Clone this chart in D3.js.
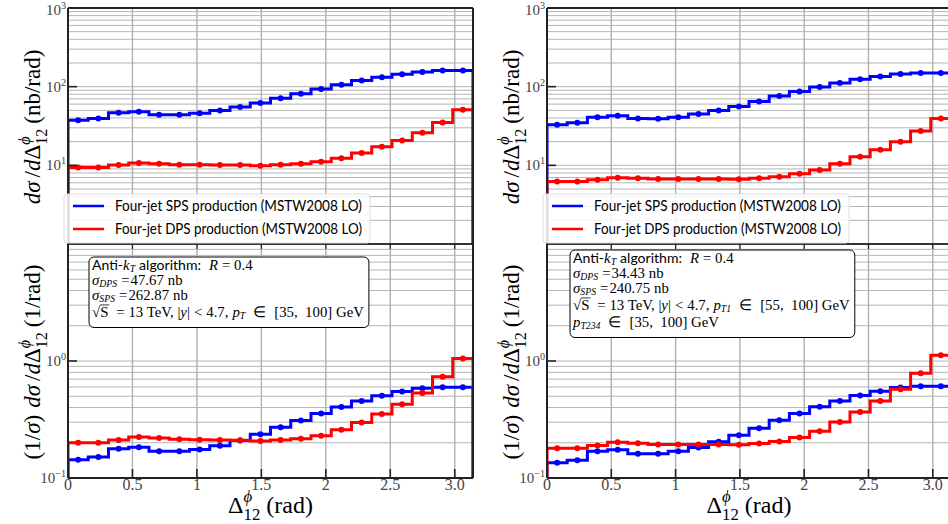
<!DOCTYPE html>
<html><head><meta charset="utf-8">
<script src="https://cdn.jsdelivr.net/npm/d3@7"></script>
<style>html,body{margin:0;padding:0;background:#fff;}svg{display:block;} text{white-space:pre;}</style>
</head><body>
<svg id="chart" width="948" height="524"></svg>
<script>
// ---------- data ----------
const nBins = 20;
const xTickValues = [0, 0.5, 1, 1.5, 2, 2.5, 3.0];
const xTickLabels = ["0", "0.5", "1", "1.5", "2", "2.5", "3.0"];
const upperTickValues = [1000, 100, 10];
const upperTickExp = ["3", "2", "1"];
const lowerTickValues = [1, 0.1];
const lowerTickExp = ["0", "\u22121"];
const legendLabels = ["Four-jet SPS production (MSTW2008 LO)", "Four-jet DPS production (MSTW2008 LO)"];

const spsLeftUpper = [37.5,39.4,46.6,48,44,44,46,49.9,55,61.8,71,81.5,93.3,106,120,132,143.5,153.6,160,160];
const dpsLeftUpper = [9.4,9.4,10.1,10.7,10.5,10.2,10.2,10.1,10.1,9.9,10.2,10.5,11.1,12.3,14.4,17.2,20.7,25.9,35,51];
const spsLeftNorm = [0.143,0.151,0.178,0.183,0.169,0.169,0.175,0.189,0.209,0.237,0.271,0.310,0.356,0.405,0.455,0.505,0.55,0.586,0.598,0.598];
const dpsLeftNorm = [0.200,0.200,0.211,0.224,0.220,0.214,0.212,0.211,0.210,0.207,0.211,0.217,0.230,0.258,0.298,0.353,0.427,0.532,0.732,1.05];

const spsRightUpper = [32.8,34.8,41,42.6,39.5,39.1,41,44.8,49.9,56.1,65,75.9,87.1,98.9,111,124,135,145,149,149];
const dpsRightUpper = [6.25,6.25,6.58,6.97,6.83,6.7,6.7,6.7,6.7,6.64,6.83,7.18,7.84,8.73,10.5,12.9,15.8,20,27.4,39.5];
const spsRightNorm = [0.135,0.142,0.169,0.174,0.161,0.161,0.169,0.182,0.204,0.232,0.266,0.311,0.355,0.406,0.454,0.507,0.552,0.593,0.609,0.609];
const dpsRightNorm = [0.180,0.180,0.190,0.202,0.198,0.193,0.193,0.193,0.193,0.192,0.197,0.205,0.222,0.251,0.301,0.366,0.454,0.574,0.785,1.12];

const sigmaLeft = {dps: "47.67", sps: "262.87"};
const sigmaRight = {dps: "34.43", sps: "240.75"};

// ---------- layout ----------
const SERIF = "Liberation Serif";
const SANS = "Lato";
const BLUE = "#0000ff", RED = "#ff0000";
const PHI = "\u03d5";
const yTop = 8, ySep = 244, yBot = 478;
const svg = d3.select("#chart");
const edges = d3.range(nBins + 1).map(i => i * Math.PI / nBins);
const centers = d3.range(nBins).map(i => (edges[i] + edges[i + 1]) / 2);

// rich text helper: sequential segments with measured widths
function rich(parent, segs, fontSize, family, anchor) {
  const g = parent.append("g");
  let x = 0, prevX = 0;
  segs.forEach(s => {
    if (s.gap !== undefined) { x += s.gap; return; }
    const fs = fontSize * (s.s || 1);
    const startX = s.back ? prevX : x;
    const t = g.append("text")
      .attr("x", startX).attr("y", (s.dy || 0) * fontSize)
      .attr("font-size", fs)
      .attr("font-family", s.f || family)
      .attr("font-style", s.it ? "italic" : "normal")
      .attr("fill", s.c || "#000")
      .text(s.t);
    const w = t.node().getComputedTextLength();
    if (s.over) {
      g.append("line").attr("x1", startX).attr("x2", startX + w + 1)
        .attr("y1", -fontSize * 0.78).attr("y2", -fontSize * 0.78)
        .attr("stroke", "#000").attr("stroke-width", 0.8).attr("class", "ovl");
    }
    prevX = startX;
    x = Math.max(x, startX + w);
  });
  let shift = 0;
  if (anchor === "middle") shift = -x / 2;
  else if (anchor === "end") shift = -x;
  g.selectAll("text").attr("x", function () { return +this.getAttribute("x") + shift; });
  g.selectAll("line.ovl").attr("x1", function () { return +this.getAttribute("x1") + shift; })
    .attr("x2", function () { return +this.getAttribute("x2") + shift; });
  g.width = x;
  return g;
}

const panels = [
  {x0: 68, x1: 473, spsU: spsLeftUpper, dpsU: dpsLeftUpper, spsN: spsLeftNorm, dpsN: dpsLeftNorm, sig: sigmaLeft, right: false, boxDx: 22, boxTop: 257},
  {x0: 547, x1: 951, spsU: spsRightUpper, dpsU: dpsRightUpper, spsN: spsRightNorm, dpsN: dpsRightNorm, sig: sigmaRight, right: true, boxDx: 24, boxTop: 250}
];

panels.forEach((p, pi) => {
  const x = d3.scaleLinear().domain([0, Math.PI]).range([p.x0, p.x1]);
  const yU = d3.scaleLog().domain([1, 1000]).range([ySep, yTop]);
  const yL = d3.scaleLog().domain([0.1, 10]).range([yBot, ySep]);
  const g = svg.append("g");

  const clipU = "clipU" + pi, clipL = "clipL" + pi;
  const defs = svg.append("defs");
  defs.append("clipPath").attr("id", clipU).append("rect").attr("x", p.x0).attr("y", yTop).attr("width", p.x1 - p.x0).attr("height", ySep - yTop);
  defs.append("clipPath").attr("id", clipL).append("rect").attr("x", p.x0).attr("y", ySep).attr("width", p.x1 - p.x0).attr("height", yBot - ySep);

  // grids
  function grid(y, lo, hi) {
    const vals = [];
    for (let e = lo; e < hi; e++) for (let m = 1; m <= 9; m++) vals.push(m * Math.pow(10, e));
    vals.push(Math.pow(10, hi));
    g.append("g").selectAll("line").data(vals).join("line")
      .attr("x1", p.x0).attr("x2", p.x1)
      .attr("y1", d => y(d)).attr("y2", d => y(d))
      .attr("stroke", "#b4b4b4").attr("stroke-width", 1);
  }
  grid(yU, 0, 3);
  grid(yL, -1, 1);
  g.append("g").selectAll("line").data(xTickValues.slice(1)).join("line")
    .attr("x1", d => x(d)).attr("x2", d => x(d))
    .attr("y1", yTop).attr("y2", yBot)
    .attr("stroke", "#b0b0b0").attr("stroke-width", 1.4);

  // histogram step lines
  function hist(vals, y, clip, color, yMin) {
    const pts = [[0, yMin]];
    vals.forEach((v, i) => pts.push([edges[i], v]));
    pts.push([Math.PI, vals[vals.length - 1]]);
    pts.push([Math.PI, yMin]);
    const line = d3.line().x(d => x(d[0])).y(d => y(d[1])).curve(d3.curveStepAfter);
    const cg = g.append("g").attr("clip-path", `url(#${clip})`);
    cg.append("path").attr("d", line(pts)).attr("fill", "none")
      .attr("stroke", color).attr("stroke-width", 3).attr("stroke-linejoin", "miter");
    cg.selectAll("circle").data(vals).join("circle")
      .attr("cx", (d, i) => x(centers[i])).attr("cy", d => y(d))
      .attr("r", 3).attr("fill", color);
  }
  hist(p.spsU, yU, clipU, BLUE, 1);
  hist(p.dpsU, yU, clipU, RED, 1);
  hist(p.spsN, yL, clipL, BLUE, 0.1);
  hist(p.dpsN, yL, clipL, RED, 0.1);

  // frame
  const fr = g.append("g").attr("stroke", "#222").attr("fill", "none");
  fr.append("line").attr("x1", p.x0).attr("x2", p.x1).attr("y1", yTop).attr("y2", yTop).attr("stroke-width", 2);
  fr.append("line").attr("x1", p.x0).attr("x2", p.x1).attr("y1", ySep).attr("y2", ySep).attr("stroke-width", 1.5).attr("stroke", "#000");
  fr.append("line").attr("x1", p.x0).attr("x2", p.x1).attr("y1", yBot).attr("y2", yBot).attr("stroke-width", 2);
  fr.append("line").attr("x1", p.x0).attr("x2", p.x0).attr("y1", yTop).attr("y2", yBot).attr("stroke-width", 2);
  fr.append("line").attr("x1", p.x1).attr("x2", p.x1).attr("y1", yTop).attr("y2", yBot).attr("stroke-width", 2);

  // y major ticks
  const tk = g.append("g").attr("stroke", "#222").attr("stroke-width", 1.6);
  upperTickValues.forEach(v => tk.append("line").attr("x1", p.x0).attr("x2", p.x0 + 9).attr("y1", yU(v)).attr("y2", yU(v)));
  lowerTickValues.forEach(v => tk.append("line").attr("x1", p.x0).attr("x2", p.x0 + 9).attr("y1", yL(v)).attr("y2", yL(v)));
  // x ticks
  xTickValues.forEach(v => {
    tk.append("line").attr("x1", x(v)).attr("x2", x(v)).attr("y1", yBot).attr("y2", yBot - 9);
    tk.append("line").attr("x1", x(v)).attr("x2", x(v)).attr("y1", ySep).attr("y2", ySep + 5).attr("stroke-width", 1.2);
  });

  // y tick labels
  function ylab(v, e, y, off) {
    const gg = rich(svg, [{t: "10", c: "#444"}, {t: e, s: 0.68, dy: -0.4, c: "#444"}], 15, SERIF, "end");
    gg.attr("transform", `translate(${p.x0 - 2},${y(v) + off})`);
  }
  upperTickValues.forEach((v, i) => ylab(v, upperTickExp[i], yU, i === 0 ? 7 : 5));
  lowerTickValues.forEach((v, i) => ylab(v, lowerTickExp[i], yL, 5));

  // x tick labels
  xTickValues.forEach((v, i) => {
    svg.append("text").attr("x", x(v)).attr("y", 490).attr("text-anchor", "middle")
      .attr("font-family", SERIF).attr("font-size", 16).attr("fill", "#444").text(xTickLabels[i]);
  });

  // x axis label
  const xl = rich(svg, [{t: "\u0394"}, {t: PHI, it: true, s: 0.7, dy: -0.45}, {t: "12", s: 0.7, dy: 0.3, back: true}, {gap: 6}, {t: "(rad)"}], 24, SERIF, "middle");
  xl.attr("transform", `translate(${(p.x0 + p.x1) / 2},513)`);

  // y axis labels
  const labU = rich(svg, [{t: "d", it: true}, {t: "\u03c3", it: true}, {gap: 4}, {t: "/"}, {t: "d", it: true}, {t: "\u0394"},
    {t: PHI, it: true, s: 0.7, dy: -0.45}, {t: "12", s: 0.7, dy: 0.3, back: true}, {gap: 5}, {t: "(nb/rad)"}], 23, SERIF, "middle");
  labU.attr("transform", `translate(${p.x0 - 28},127) rotate(-90)`);
  const labL = rich(svg, [{t: "(1/"}, {t: "\u03c3", it: true}, {t: ")"}, {gap: 7}, {t: "d", it: true}, {t: "\u03c3", it: true}, {gap: 4}, {t: "/"}, {t: "d", it: true}, {t: "\u0394"},
    {t: PHI, it: true, s: 0.7, dy: -0.45}, {t: "12", s: 0.7, dy: 0.3, back: true}, {gap: 5}, {t: "(1/rad)"}], 23, SERIF, "middle");
  labL.attr("transform", `translate(${p.x0 - 28},362) rotate(-90)`);

  // legend
  const lg = svg.append("g");
  lg.append("rect").attr("x", p.x0 - 4).attr("y", 194).attr("width", 306).attr("height", 49)
    .attr("rx", 3).attr("fill", "#fff").attr("fill-opacity", 0.85).attr("stroke", "#ddd");
  [BLUE, RED].forEach((c, i) => {
    const ly = 206 + i * 23;
    lg.append("line").attr("x1", p.x0 + 5).attr("x2", p.x0 + 36).attr("y1", ly).attr("y2", ly).attr("stroke", c).attr("stroke-width", 2.5);
    lg.append("text").attr("x", p.x0 + 47).attr("y", ly + 5).attr("font-family", SANS).attr("font-size", 15.5)
      .attr("textLength", 247).attr("lengthAdjust", "spacingAndGlyphs").text(legendLabels[i]);
  });

  // info box
  const bx = svg.append("g");
  const bxRect = bx.append("rect");
  const tx0 = p.x0 + p.boxDx + 2;
  const base = p.boxTop + 13;
  const fs = 14.8;
  const sub = (t) => ({t: t, it: true, s: 0.66, dy: 0.16});
  const lines = [];
  lines.push([{t: "Anti-", f: SANS, s: 0.95}, {t: "k", it: true}, sub("T"), {gap: 4}, {t: "algorithm:", f: SANS, s: 0.95}, {gap: 8}, {t: "R", it: true}, {gap: 4}, {t: "= 0.4"}]);
  lines.push([{t: "\u03c3", it: true}, sub("DPS"), {gap: 4}, {t: "="}, {gap: 1}, {t: p.sig.dps}, {gap: 4}, {t: "nb"}]);
  lines.push([{t: "\u03c3", it: true}, sub("SPS"), {gap: 4}, {t: "="}, {gap: 1}, {t: p.sig.sps}, {gap: 4}, {t: "nb"}]);
  const tail = (pt, rng) => [{gap: 8}, {t: "= 13 TeV, |"}, {t: "y", it: true}, {t: "|"}, {gap: 4}, {t: "<"}, {gap: 4}, {t: "4.7,"}, {gap: 4},
    {t: "p", it: true}, sub(pt), {gap: 8}, {t: "\u2208"}, {gap: 8}, {t: rng}];
  if (!p.right) {
    lines.push([{t: "\u221a"}, {t: "S", over: true}].concat(tail("T", "[35,  100] GeV")));
  } else {
    lines.push([{t: "\u221a"}, {t: "S", over: true}].concat(tail("T1", "[55,  100] GeV")));
    lines.push([{t: "p", it: true}, sub("T234"), {gap: 8}, {t: "\u2208"}, {gap: 8}, {t: "[35,  100] GeV"}]);
  }
  let maxW = 0, lastBase = base;
  lines.forEach((segs, i) => {
    const lgp = rich(bx, segs, fs, SERIF, "start");
    lastBase = base + i * 15 + (i >= 3 ? 1.5 : 0) + (i >= 4 ? 2 : 0);
    lgp.attr("transform", `translate(${tx0},${lastBase})`);
    maxW = Math.max(maxW, lgp.width);
  });
  bxRect.attr("x", tx0 - 3).attr("y", p.boxTop).attr("width", maxW + 8).attr("height", lastBase + 11 - p.boxTop)
    .attr("rx", 5).attr("fill", "#fff").attr("stroke", "#000").attr("stroke-width", 1);
});
</script>
</body></html>
